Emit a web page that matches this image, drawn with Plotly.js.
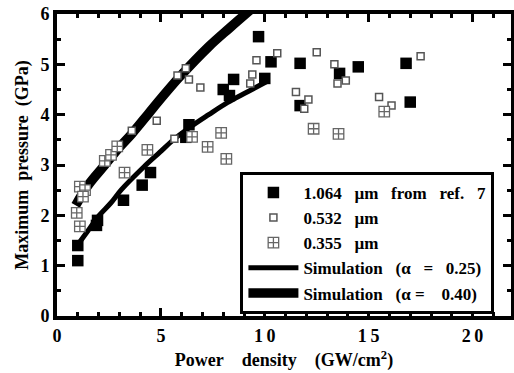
<!DOCTYPE html>
<html>
<head>
<meta charset="utf-8">
<script src="https://cdn.plot.ly/plotly-3.0.1.min.js"></script>
<style>html,body{margin:0;padding:0;background:#fff;}#chart{width:514px;height:373px;}</style>
</head>
<body>
<div id="chart"></div>
<script>
// 1.064 um (filled squares, from ref. 7)
const x1064 = [1.0, 1.0, 1.9, 1.95, 3.2, 4.1, 4.5, 6.2, 6.35, 8.0, 8.5, 8.3, 9.7, 10.0, 10.3, 11.7, 11.7, 13.6, 14.5, 16.8, 17.0];
const y1064 = [1.1, 1.4, 1.8, 1.9, 2.3, 2.6, 2.85, 3.55, 3.8, 4.5, 4.7, 4.38, 5.55, 4.72, 5.05, 5.02, 4.18, 4.82, 4.95, 5.02, 4.25];
// 0.532 um (open squares)
const x532 = [3.6, 4.8, 5.65, 5.8, 6.2, 6.35, 6.9, 9.3, 9.4, 9.6, 10.6, 11.5, 11.9, 12.1, 12.5, 13.35, 13.5, 13.9, 15.5, 16.1, 17.5];
const y532 = [3.68, 3.88, 3.52, 4.78, 4.92, 4.70, 4.54, 4.62, 4.8, 5.08, 5.22, 4.45, 4.12, 4.3, 5.24, 5.0, 4.62, 4.68, 4.35, 4.18, 5.16];
// 0.355 um (crosshatched squares)
const x355 = [1.1, 1.1, 1.35, 1.25, 0.95, 2.3, 2.6, 2.9, 3.25, 4.35, 6.5, 7.25, 7.9, 8.15, 12.35, 13.55, 15.75];
const y355 = [1.78, 2.57, 2.5, 2.37, 2.05, 3.08, 3.2, 3.37, 2.85, 3.3, 3.56, 3.36, 3.64, 3.12, 3.72, 3.62, 4.06];
// Simulation alpha = 0.25 (thin line)
const xSim25 = [0.93, 1.5, 1.97, 2.6, 3.1, 4.2, 4.94, 5.6, 6.4, 7.3, 8.2, 9.2, 10.1];
const ySim25 = [1.38, 1.7, 1.97, 2.25, 2.51, 2.97, 3.25, 3.5, 3.75, 4.0, 4.24, 4.46, 4.66];
// Simulation alpha = 0.40 (thick line)
const xSim40 = [0.9, 1.5, 2.3, 3.0, 3.6, 4.4, 5.0, 5.9, 7.3, 8.3, 9.5];
const ySim40 = [2.2, 2.6, 3.0, 3.35, 3.62, 4.02, 4.32, 4.75, 5.35, 5.72, 6.15];

const xTicks = [0, 5, 10, 15, 20];
const xTickText = ['0', '5', '1\u20090', '1\u20095', '2\u20090'];
const yTicks = [0, 1, 2, 3, 4, 5, 6];

const NB = '\u00a0';
const FONT = 'Liberation Serif';

const traces = [
  {x: xSim25, y: ySim25, mode: 'lines', type: 'scatter', name: 'Simulation' + NB.repeat(3) + '(α' + NB.repeat(3) + '=' + NB.repeat(3) + '0.25)',
   line: {color: '#000', width: 5, shape: 'spline'}, legendrank: 4},
  {x: xSim40, y: ySim40, mode: 'lines', type: 'scatter', name: 'Simulation' + NB.repeat(3) + '(α' + NB + '=' + NB.repeat(4) + '0.40)',
   line: {color: '#000', width: 9.5, shape: 'spline'}, legendrank: 5},
  {x: x1064, y: y1064, mode: 'markers', type: 'scatter', name: '1.064' + NB.repeat(3) + 'µm' + NB.repeat(3) + 'from' + NB.repeat(3) + 'ref.' + NB.repeat(3) + '7',
   marker: {symbol: 'square', size: 11.5, color: '#000', line: {width: 0}}, legendrank: 1},
  {x: x532, y: y532, mode: 'markers', type: 'scatter', name: '0.532' + NB.repeat(3) + 'µm',
   marker: {symbol: 'square', size: 7, color: '#fff', line: {color: '#555', width: 1.5}}, legendrank: 2},
  {x: x355, y: y355, mode: 'markers', type: 'scatter', name: '0.355' + NB.repeat(3) + 'µm',
   marker: {symbol: 'square-cross', size: 10.5, color: '#fff', line: {color: '#666', width: 1.3}}, legendrank: 3}
];

const layout = {
  width: 514, height: 373,
  margin: {l: 57, r: 3, t: 14, b: 57},
  paper_bgcolor: '#fff', plot_bgcolor: '#fff',
  font: {family: FONT, size: 15, color: '#000', weight: 'bold'},
  showlegend: true,
  legend: {
    x: 0.404, y: 0.477, xanchor: 'left', yanchor: 'top',
    bgcolor: '#fff', bordercolor: '#000', borderwidth: 3,
    font: {family: FONT, size: 17, color: '#000', weight: 'bold'},
    itemwidth: 50, traceorder: 'normal'
  },
  xaxis: {
    range: [0, 21.85], tickvals: xTicks, ticktext: xTickText,
    showline: true, linewidth: 4, linecolor: '#000', mirror: 'ticks',
    ticks: 'inside', ticklen: 8, tickwidth: 3, tickcolor: '#000',
    minor: {dtick: 1, ticks: 'inside', ticklen: 4, tickwidth: 3, tickcolor: '#000'},
    showgrid: false, zeroline: false,
    tickfont: {family: FONT, size: 18, weight: 'bold'},
    title: {text: 'Power' + NB.repeat(4) + 'density' + NB.repeat(4) + '(GW/cm<sup>2</sup>)', standoff: 10,
            font: {family: FONT, size: 18, weight: 'bold'}}
  },
  yaxis: {
    range: [0, 6], tickvals: yTicks,
    showline: true, linewidth: 4, linecolor: '#000', mirror: 'ticks',
    ticks: 'inside', ticklen: 8, tickwidth: 3, tickcolor: '#000',
    minor: {dtick: 0.5, ticks: 'inside', ticklen: 4, tickwidth: 3, tickcolor: '#000'},
    showgrid: false, zeroline: false,
    tickfont: {family: FONT, size: 18, weight: 'bold'},
    title: {text: 'Maximum' + NB.repeat(2) + 'pressure' + NB.repeat(2) + '(GPa)', standoff: 8,
            font: {family: FONT, size: 18, weight: 'bold'}}
  }
};

Plotly.newPlot('chart', traces, layout, {displayModeBar: false, staticPlot: true});
</script>
</body>
</html>
